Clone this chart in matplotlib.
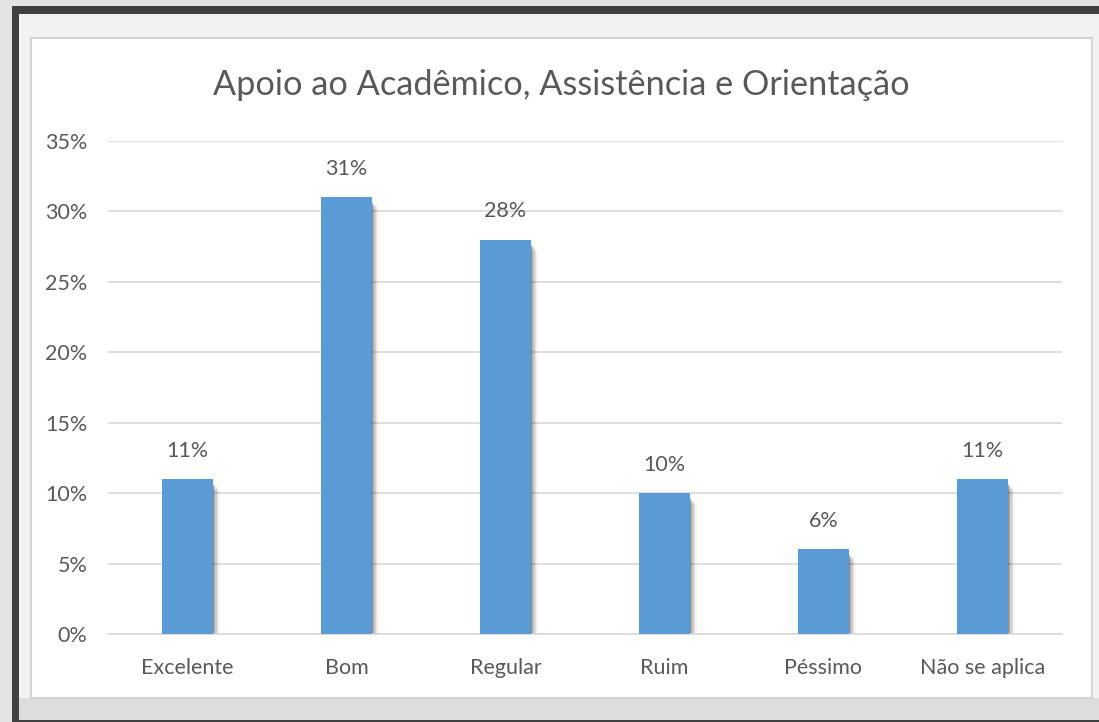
import matplotlib.pyplot as plt
from matplotlib.patches import Rectangle

categorias = ["Excelente", "Bom", "Regular", "Ruim", "Péssimo", "Não se aplica"]
valores = [11, 31, 28, 10, 6, 11]
yticks = [0, 5, 10, 15, 20, 25, 30, 35]

plt.rcParams['font.family'] = ['Lato', 'DejaVu Sans']
cor_texto = "#595959"
cor_barra = "#5b9bd5"

fig = plt.figure(figsize=(10.99, 7.22), dpi=100)
fig.patch.set_facecolor("#e4e4e4")
W, H = 1099, 722

def caixa(x, y, w, h, **kw):
    # retângulo em pixels (origem no canto superior esquerdo)
    fig.patches.append(Rectangle((x / W, 1 - (y + h) / H), w / W, h / H,
                                 transform=fig.transFigure, **kw))

# moldura escura e fundo cinza claro
caixa(12, 6, 1100, 720, facecolor="#404040", edgecolor="none", zorder=0)
caixa(19, 14, 1100, 704, facecolor="#f2f2f2", edgecolor="none", zorder=0)
caixa(19, 698, 1100, 22, facecolor="#dcdcdc", edgecolor="none", zorder=0)
# caixa branca do gráfico
caixa(31, 38, 1061, 660, facecolor="white", edgecolor="#d4d4d4", linewidth=1.5, zorder=1)

ax = fig.add_axes((108 / W, 1 - 634 / H, 954 / W, 493 / H))
ax.set_facecolor("none")
ax.set_zorder(2)

x = range(len(categorias))
largura = 0.315
# sombra das barras
for k, a in enumerate([0.18, 0.14, 0.10, 0.07, 0.04]):
    off = 0.008 + k * 0.009
    ax.bar([i + off for i in x], [v - 0.2 for v in valores], width=largura, bottom=-0.12 * (k + 1),
           color="black", alpha=a, zorder=2, linewidth=0)
ax.bar(x, valores, width=largura, color=cor_barra, zorder=3, linewidth=0)

for i, v in zip(x, valores):
    ax.text(i, v + 1.3, f"{v}%", ha="center", va="bottom", fontsize=15.5, color=cor_texto)

ax.set_xlim(-0.5, len(categorias) - 0.5)
ax.set_ylim(0, 35)
ax.set_yticks(yticks)
ax.set_yticklabels([f"{t}%" for t in yticks], fontsize=15.5, color=cor_texto)
ax.set_xticks(list(x))
ax.set_xticklabels(categorias, fontsize=15.5, color=cor_texto)
ax.grid(axis="y", color="#d9d9d9", linewidth=1.2, zorder=1)
ax.set_axisbelow(True)
for s in ["top", "right", "left"]:
    ax.spines[s].set_visible(False)
ax.spines["bottom"].set_color("#d9d9d9")
ax.spines["bottom"].set_linewidth(1.2)
ax.tick_params(length=0, pad=17)
ax.tick_params(axis="y", pad=15)

fig.text(561 / W, 1 - 85 / H, "Apoio ao Acadêmico, Assistência e Orientação", ha="center", va="center",
         fontsize=24.7, color=cor_texto)

fig.savefig("out.png", dpi=100, facecolor=fig.get_facecolor())
